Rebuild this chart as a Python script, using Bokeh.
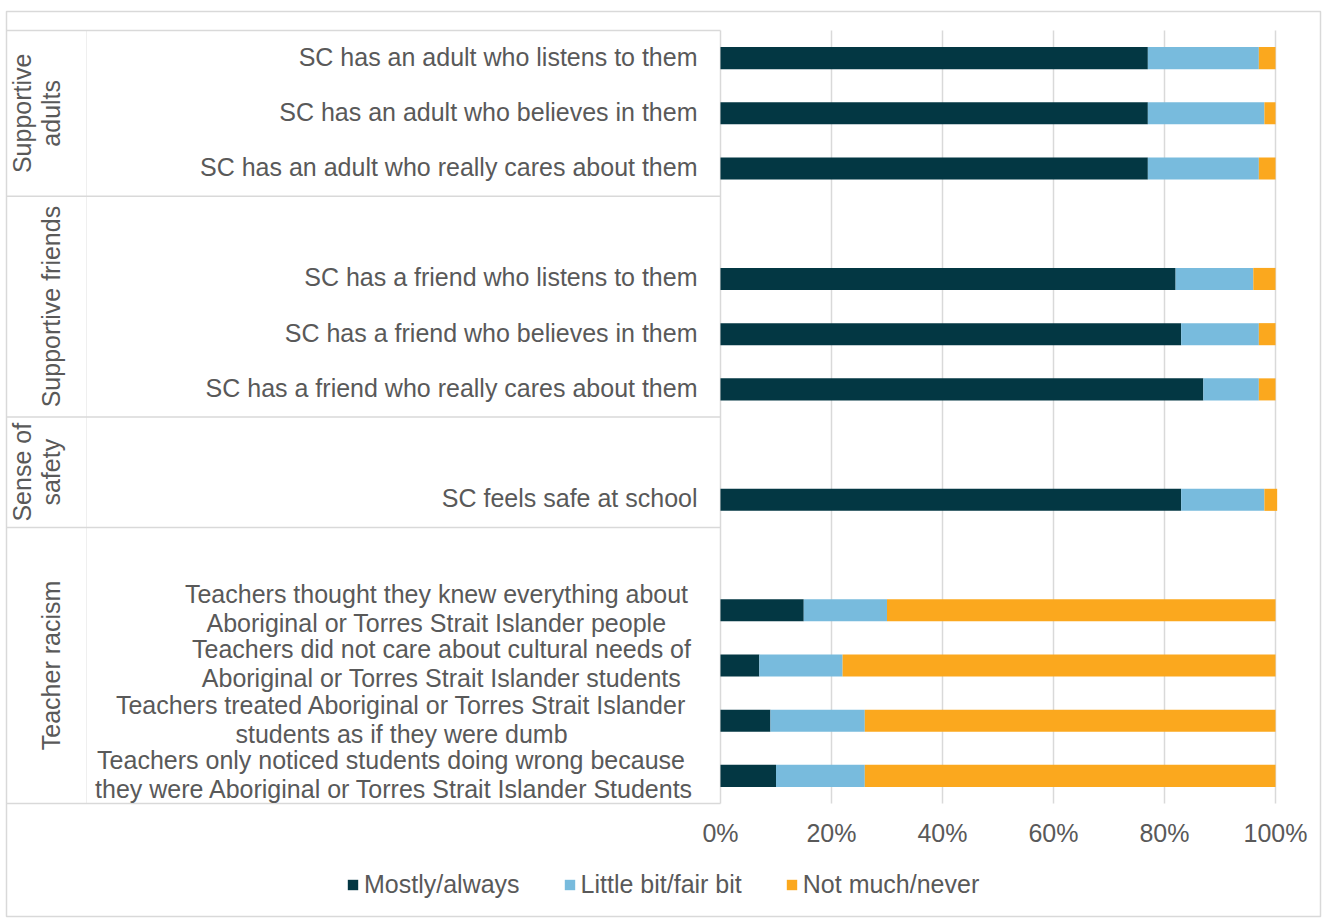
import math
from bokeh.plotting import figure
from bokeh.models import Range1d, FixedTicker, LinearAxis, ColumnDataSource
from bokeh.core.properties import value
from bokeh.embed import file_html
from bokeh.resources import INLINE

# ---------------- data ----------------
groups = ["Supportive\nadults", "Supportive friends", "Sense of\nsafety", "Teacher racism"]
categories = [
    "SC has an adult who listens to them",
    "SC has an adult who believes in them",
    "SC has an adult who really cares about them",
    "SC has a friend who listens to them",
    "SC has a friend who believes in them",
    "SC has a friend who really cares about them",
    "SC feels safe at school",
    "Teachers thought they knew everything about\nAboriginal or Torres Strait Islander people",
    "Teachers did not care about cultural needs of\nAboriginal or Torres Strait Islander students",
    "Teachers treated Aboriginal or Torres Strait Islander\nstudents as if they were dumb",
    "Teachers only noticed  students doing wrong because\nthey were Aboriginal or Torres Strait Islander Students",
]
category_group = [0, 0, 0, 1, 1, 1, 2, 3, 3, 3, 3]
mostly = [77, 77, 77, 82, 83, 87, 83, 15, 7, 9, 10]
little = [20, 21, 20, 14, 14, 10, 15, 15, 15, 17, 16]
not_much = [3, 2, 3, 4, 3, 3, 2.3, 70, 78, 74, 74]
series = ["Mostly/always", "Little bit/fair bit", "Not much/never"]
x_ticks = [0, 20, 40, 60, 80, 100]
x_tick_labels = ["0%", "20%", "40%", "60%", "80%", "100%"]

# ---------------- style / layout ----------------
COLORS = ["#033743", "#78BBDD", "#FBA81E"]
FONT = "Liberation Sans"
GREY = "#595959"
LINE = "#D9D9D9"
FS = "25px"
W, H = 1322, 918
PLOT_L, PLOT_R, PLOT_T, PLOT_B = 720, 1275, 30, 803

# each group after the first opens with an empty row
slots, group_start = [], []
s, prev = 0, None
for g in category_group:
    if g != prev:
        group_start.append(s)
        if prev is not None:
            s += 1
        prev = g
    slots.append(s + 0.5)
    s += 1
n_slots = s
group_bounds = group_start + [n_slots]

PX_X = (PLOT_R - PLOT_L) / 100.0        # pixels per percent
PX_Y = (PLOT_B - PLOT_T) / n_slots      # pixels per row slot


def dx(px):
    return (px - PLOT_L) / PX_X


def dy(py):
    return (py - PLOT_T) / PX_Y


p = figure(frame_width=W, frame_height=H, min_border=0,
           x_range=Range1d(dx(0), dx(W)), y_range=Range1d(dy(H), dy(0)),
           x_axis_location=None, y_axis_location=None,
           output_backend="svg", toolbar_location=None)
p.outline_line_color = None
p.xgrid.visible = False
p.ygrid.visible = False

# outer chart border
p.quad(left=dx(6), right=dx(1320), top=dy(11), bottom=dy(916),
       fill_color=None, line_color=LINE, line_width=1.5)

# vertical gridlines over the plot area
p.segment(x0=x_ticks, x1=x_ticks, y0=[0] * len(x_ticks), y1=[n_slots] * len(x_ticks),
          line_color=LINE, line_width=1.5)

# table around the category labels
p.segment(x0=[dx(86)], x1=[dx(86)], y0=[0], y1=[n_slots], line_color="#EFEFEF", line_width=1)
p.segment(x0=[dx(6)] * len(group_bounds), x1=[0] * len(group_bounds),
          y0=group_bounds, y1=group_bounds, line_color=LINE, line_width=1.5)

# bars
src = ColumnDataSource(dict(slot=slots, a=mostly, b=little, c=not_much))
p.hbar_stack(["a", "b", "c"], y="slot", height=0.4, color=COLORS, line_color=None,
             source=src, legend_label=series)

# x axis drawn at the bottom of the plot area
ax = LinearAxis(fixed_location=n_slots, ticker=FixedTicker(ticks=x_ticks))
ax.major_label_overrides = {t: l for t, l in zip(x_ticks, x_tick_labels)}
ax.axis_line_color = None
ax.major_tick_line_color = None
ax.minor_tick_line_color = None
ax.major_label_standoff = 9
ax.major_label_text_font = FONT
ax.major_label_text_font_size = FS
ax.major_label_text_color = GREY
p.add_layout(ax, "below")

txt = dict(text_font=value(FONT), text_font_size=value(FS), text_color=GREY,
           text_baseline="middle")

# group labels (rotated)
gx, gy, gt = [], [], []
for i, gname in enumerate(groups):
    mid = (group_bounds[i] + group_bounds[i + 1]) / 2
    lines = gname.split("\n")
    cols = [21, 50] if len(lines) == 2 else [50]
    for ln, c in zip(lines, cols):
        gx.append(dx(c)); gy.append(mid); gt.append(ln)
p.text(x=gx, y=gy, text=gt, angle=math.pi / 2, text_align="center", **txt)

# category labels
wrap_centers = [436, 441, 401, 394]
rx, ry, rt = [], [], []
cx, cy, ct = [], [], []
k = 0
half = 14.5 / PX_Y
lift = 1.5 / PX_Y
for cat, ys in zip(categories, slots):
    lines = cat.split("\n")
    if len(lines) == 1:
        rx.append(dx(697)); ry.append(ys - lift); rt.append(cat)
    else:
        for j, ln in enumerate(lines):
            cx.append(dx(wrap_centers[k]))
            cy.append(ys - half - lift if j == 0 else ys + half - lift)
            ct.append(ln)
        k += 1
p.text(x=rx, y=ry, text=rt, text_align="right", **txt)
p.text(x=cx, y=cy, text=ct, text_align="center", **txt)

lg = p.legend[0]
lg.orientation = "horizontal"
lg.location = (346, H - 899)
lg.glyph_width = 13
lg.glyph_height = 13
lg.label_standoff = 5
lg.spacing = 43
lg.padding = 0
lg.margin = 0
lg.border_line_color = None
lg.background_fill_alpha = 0
lg.label_text_font = FONT
lg.label_text_font_size = FS
lg.label_text_color = GREY

open("out.html", "w").write(file_html(p, INLINE))
